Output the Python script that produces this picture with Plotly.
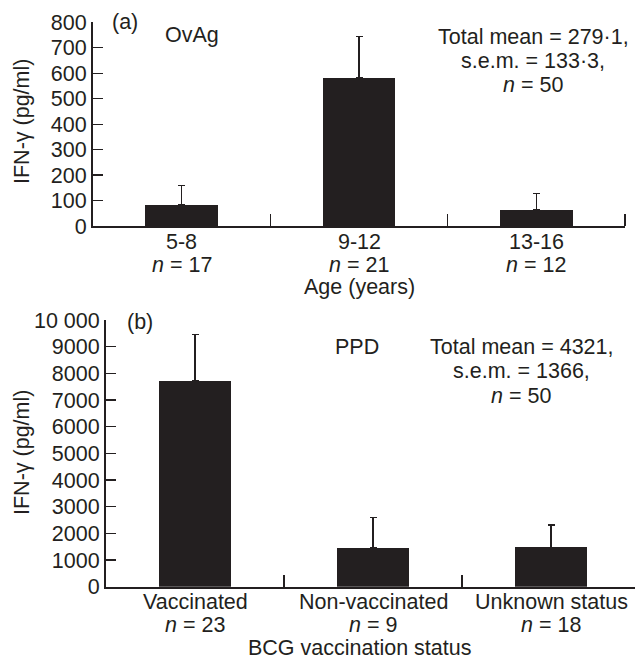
import plotly.graph_objects as go

# Panel (a) data
age_groups = ["5-8", "9-12", "13-16"]
age_n = [17, 21, 12]
ovag_mean = [83, 583, 63]
ovag_sem = [75, 162, 65]
ovag_ticks = [0, 100, 200, 300, 400, 500, 600, 700, 800]

# Panel (b) data
bcg_groups = ["Vaccinated", "Non-vaccinated", "Unknown status"]
bcg_n = [23, 9, 18]
ppd_mean = [7720, 1450, 1480]
ppd_sem = [1740, 1140, 835]
ppd_ticks = [0, 1000, 2000, 3000, 4000, 5000, 6000, 7000, 8000, 9000, 10000]
ppd_ticktext = ["0", "1000", "2000", "3000", "4000", "5000", "6000", "7000", "8000", "9000", "10 000"]

W, H = 635, 659
FONT = "Liberation Sans, Arial, Helvetica, sans-serif"
FS = 21.5
INK = "#231f20"

pos = [0.5, 1.5, 2.5]

fig = go.Figure()
fig.add_trace(go.Bar(
    x=pos, y=ovag_mean, width=0.41, marker=dict(color=INK, line=dict(width=0)),
    error_y=dict(type="data", array=ovag_sem, arrayminus=[0]*3, symmetric=False,
                 color=INK, thickness=1.3, width=3.5),
    xaxis="x", yaxis="y", showlegend=False, hoverinfo="skip"))
fig.add_trace(go.Bar(
    x=pos, y=ppd_mean, width=0.41, marker=dict(color=INK, line=dict(width=0)),
    error_y=dict(type="data", array=ppd_sem, arrayminus=[0]*3, symmetric=False,
                 color=INK, thickness=1.3, width=3.5),
    xaxis="x2", yaxis="y2", showlegend=False, hoverinfo="skip"))

common_x = dict(
    showline=True, linecolor=INK, linewidth=2, showgrid=False, zeroline=False,
    automargin=False, ticks="", showticklabels=False, tickvals=pos, fixedrange=True,
    minor=dict(tickmode="array", tickvals=[1, 2, 3], ticks="inside", ticklen=12,
               tickwidth=1.3, tickcolor=INK, showgrid=False),
)
common_y = dict(
    showline=True, linecolor=INK, linewidth=2, showgrid=False, zeroline=False,
    automargin=False, ticks="inside", ticklen=10, tickwidth=1.3, tickcolor=INK,
    fixedrange=True, tickfont=dict(family=FONT, size=FS, color=INK),
)

fig.update_layout(
    template="none",
    width=W, height=H, margin=dict(l=0, r=0, t=0, b=0, pad=0),
    paper_bgcolor="white", plot_bgcolor="white",
    font=dict(family=FONT, size=FS, color=INK),
    bargap=0,
    xaxis=dict(domain=[93/W, 625/W], range=[0, 3], anchor="y", **common_x),
    yaxis=dict(domain=[1-226/H, 1-22.3/H], range=[0, 800], anchor="x",
               tickvals=ovag_ticks, **common_y),
    xaxis2=dict(domain=[106/W, 1.0], range=[0, (W-106)/178], anchor="y2", **common_x),
    yaxis2=dict(domain=[1-586.7/H, 1-320/H], range=[0, 10000], anchor="x2",
                tickvals=ppd_ticks, ticktext=ppd_ticktext, **common_y),
)

def ann(text, x, y, xref="paper", yref="paper", **kw):
    d = dict(text=text, x=x, y=y, xref=xref, yref=yref, showarrow=False,
             font=dict(family=FONT, size=FS, color=INK))
    d.update(kw)
    fig.add_annotation(**d)

# category labels under each axis
for xr, yr, groups, ns in (("x", "y domain", age_groups, age_n),
                            ("x2", "y2 domain", bcg_groups, bcg_n)):
    for p, g, n in zip(pos, groups, ns):
        ann(g, p, 0, xref=xr, yref=yr, yshift=-15.5, xanchor="center", yanchor="middle")
        ann(f"<i>n</i> = {n}", p, 0, xref=xr, yref=yr, yshift=-38.5,
            xanchor="center", yanchor="middle")

# Panel (a) annotations
ann("(a)", 110/W, 1-22.5/H, xanchor="left", yanchor="middle")
ann("OvAg", 163/W, 1-34.5/H, xanchor="left", yanchor="middle")
for i, line in enumerate(["Total mean = 279·1,", "s.e.m. = 133·3,", "<i>n</i> = 50"]):
    ann(line, 533/W, 1-(36.5 + 24.5*i)/H, xanchor="center", yanchor="middle")
ann("Age (years)", 0.5, 0, xref="x domain", yref="y domain", yshift=-61,
    xanchor="center", yanchor="middle")
ann("IFN-γ (pg/ml)", 22/W, 1-122/H, textangle=-90, xanchor="center", yanchor="middle")

# Panel (b) annotations
ann("(b)", 125/W, 1-322/H, xanchor="left", yanchor="middle")
ann("PPD", 333/W, 1-347/H, xanchor="left", yanchor="middle")
for i, line in enumerate(["Total mean = 4321,", "s.e.m. = 1366,", "<i>n</i> = 50"]):
    ann(line, 521/W, 1-(346.7 + 24.5*i)/H, xanchor="center", yanchor="middle")
ann("BCG vaccination status", 0.5, 0, xref="x domain", yref="y2 domain", yshift=-61,
    xanchor="center", yanchor="middle")
ann("IFN-γ (pg/ml)", 22/W, 1-453/H, textangle=-90, xanchor="center", yanchor="middle")

fig.write_html(
    "out.html",
    config={"displayModeBar": False, "staticPlot": True},
    post_script="document.body.style.margin='0';document.body.style.padding='0';"
                "document.body.style.overflow='hidden';",
)
